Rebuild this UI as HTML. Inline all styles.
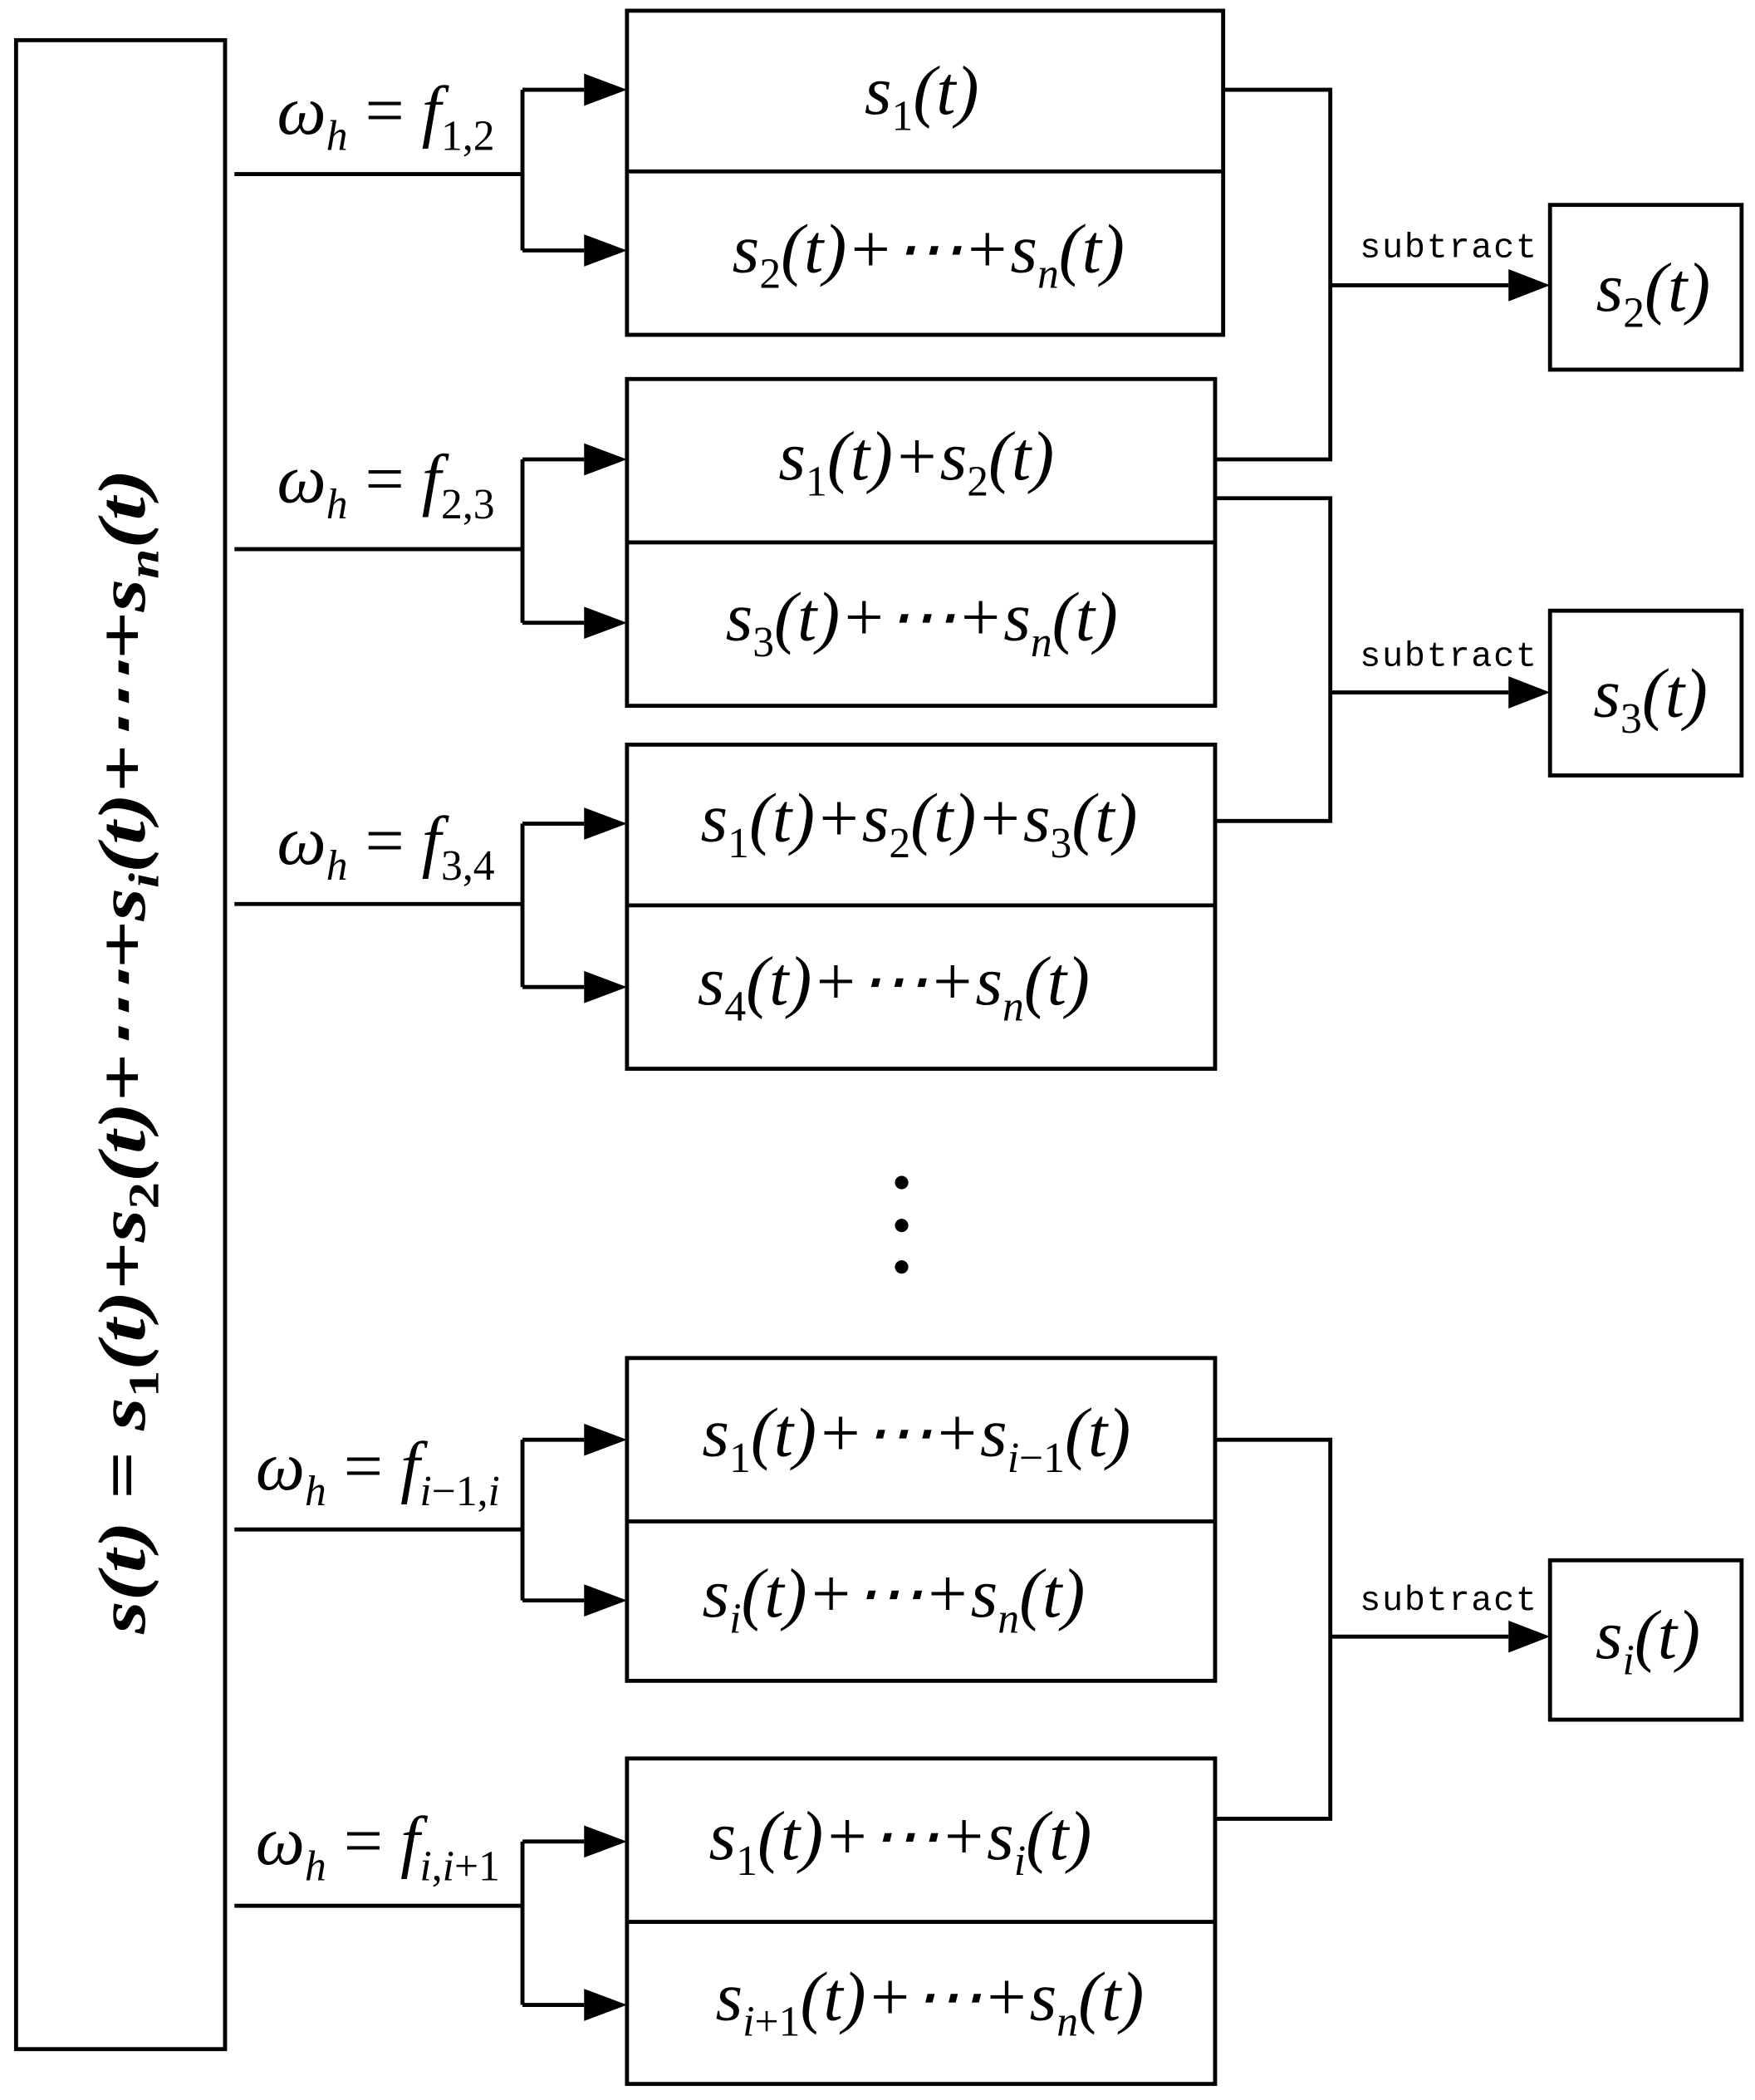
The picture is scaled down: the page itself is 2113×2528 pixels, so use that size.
<!DOCTYPE html>
<html><head><meta charset="utf-8"><style>html,body{margin:0;padding:0;background:#fff}svg{display:block}</style></head><body>
<svg width="2113" height="2528" viewBox="0 0 1310 1568" preserveAspectRatio="none" xmlns="http://www.w3.org/2000/svg">
<g fill="none" stroke="#000" stroke-width="3">
<rect x="12" y="30" width="156" height="1500"/>
<rect x="468" y="8" width="445" height="242"/><line x1="468" y1="128" x2="913" y2="128"/>
<rect x="468" y="283" width="439" height="244"/><line x1="468" y1="405" x2="907" y2="405"/>
<rect x="468" y="556" width="439" height="242"/><line x1="468" y1="676" x2="907" y2="676"/>
<rect x="468" y="1014" width="439" height="241"/><line x1="468" y1="1136" x2="907" y2="1136"/>
<rect x="468" y="1313" width="439" height="243"/><line x1="468" y1="1435" x2="907" y2="1435"/>
<rect x="1157" y="153" width="143" height="123"/>
<rect x="1157" y="456" width="143" height="123"/>
<rect x="1157" y="1165" width="143" height="119"/>
<path d="M175 130H390M390 67V187"/><path d="M390 67H436M390 187H436"/>
<path d="M175 410H390M390 343V465"/><path d="M390 343H436M390 465H436"/>
<path d="M175 675H390M390 615V737"/><path d="M390 615H436M390 737H436"/>
<path d="M175 1142H390M390 1075V1195"/><path d="M390 1075H436M390 1195H436"/>
<path d="M175 1423H390M390 1375V1497"/><path d="M390 1375H436M390 1497H436"/>
<path d="M913 67H993V343H907"/><path d="M993 213H1126"/>
<path d="M907 372H993V613H907"/><path d="M993 517H1126"/>
<path d="M907 1075H993V1358H907"/><path d="M993 1222H1126"/>
</g>
<g fill="#000">
<path d="M436 55L468 67L436 79z"/><path d="M436 175L468 187L436 199z"/>
<path d="M436 331L468 343L436 355z"/><path d="M436 453L468 465L436 477z"/>
<path d="M436 603L468 615L436 627z"/><path d="M436 725L468 737L436 749z"/>
<path d="M436 1063L468 1075L436 1087z"/><path d="M436 1183L468 1195L436 1207z"/>
<path d="M436 1363L468 1375L436 1387z"/><path d="M436 1485L468 1497L436 1509z"/>
<path d="M1126 201L1157 213L1126 225z"/><path d="M1126 505L1157 517L1126 529z"/><path d="M1126 1210L1157 1222L1126 1234z"/>
<circle cx="673" cy="883" r="5"/><circle cx="673" cy="915" r="5"/><circle cx="673" cy="946" r="5"/>
</g>
<g font-family="'Liberation Mono', monospace" font-size="26" fill="#000">
<text x="1015" y="192" textLength="132">subtract</text>
<text x="1015" y="497" textLength="132">subtract</text>
<text x="1015" y="1202" textLength="132">subtract</text>
</g>
<g font-family="'Liberation Serif', serif" font-style="italic" font-size="52" fill="#000" text-anchor="middle">
<text x="288" y="100">ω<tspan font-size="32" dy="12">h</tspan><tspan dy="-12" font-style="normal"> = </tspan>f<tspan font-size="32" dy="12" font-style="normal">1,2</tspan></text>
<text x="288" y="375">ω<tspan font-size="32" dy="12">h</tspan><tspan dy="-12" font-style="normal"> = </tspan>f<tspan font-size="32" dy="12" font-style="normal">2,3</tspan></text>
<text x="288" y="645">ω<tspan font-size="32" dy="12">h</tspan><tspan dy="-12" font-style="normal"> = </tspan>f<tspan font-size="32" dy="12" font-style="normal">3,4</tspan></text>
<text x="282" y="1112">ω<tspan font-size="32" dy="12">h</tspan><tspan dy="-12" font-style="normal"> = </tspan>f<tspan font-size="32" dy="12">i</tspan><tspan font-size="32" font-style="normal">−1,</tspan><tspan font-size="32">i</tspan></text>
<text x="282" y="1392">ω<tspan font-size="32" dy="12">h</tspan><tspan dy="-12" font-style="normal"> = </tspan>f<tspan font-size="32" dy="12">i</tspan><tspan font-size="32" font-style="normal">,</tspan><tspan font-size="32">i</tspan><tspan font-size="32" font-style="normal">+1</tspan></text>

<text x="688" y="85">s<tspan font-size="32" dy="12" font-style="normal">1</tspan><tspan dy="-12">(t)</tspan></text>
<text x="693" y="203">s<tspan font-size="32" dy="12" font-style="normal">2</tspan><tspan dy="-12">(t)+⋯+s</tspan><tspan font-size="32" dy="12">n</tspan><tspan dy="-12">(t)</tspan></text>
<text x="684" y="358">s<tspan font-size="32" dy="12" font-style="normal">1</tspan><tspan dy="-12">(t)+s</tspan><tspan font-size="32" dy="12" font-style="normal">2</tspan><tspan dy="-12">(t)</tspan></text>
<text x="688" y="478">s<tspan font-size="32" dy="12" font-style="normal">3</tspan><tspan dy="-12">(t)+⋯+s</tspan><tspan font-size="32" dy="12">n</tspan><tspan dy="-12">(t)</tspan></text>
<text x="686" y="628">s<tspan font-size="32" dy="12" font-style="normal">1</tspan><tspan dy="-12">(t)+s</tspan><tspan font-size="32" dy="12" font-style="normal">2</tspan><tspan dy="-12">(t)+s</tspan><tspan font-size="32" dy="12" font-style="normal">3</tspan><tspan dy="-12">(t)</tspan></text>
<text x="667" y="750">s<tspan font-size="32" dy="12" font-style="normal">4</tspan><tspan dy="-12">(t)+⋯+s</tspan><tspan font-size="32" dy="12">n</tspan><tspan dy="-12">(t)</tspan></text>
<text x="684" y="1087">s<tspan font-size="32" dy="12" font-style="normal">1</tspan><tspan dy="-12">(t)+⋯+s</tspan><tspan font-size="32" dy="12">i</tspan><tspan font-size="32" font-style="normal">−1</tspan><tspan dy="-12">(t)</tspan></text>
<text x="667" y="1207">s<tspan font-size="32" dy="12">i</tspan><tspan dy="-12">(t)+⋯+s</tspan><tspan font-size="32" dy="12">n</tspan><tspan dy="-12">(t)</tspan></text>
<text x="672" y="1388">s<tspan font-size="32" dy="12" font-style="normal">1</tspan><tspan dy="-12">(t)+⋯+s</tspan><tspan font-size="32" dy="12">i</tspan><tspan dy="-12">(t)</tspan></text>
<text x="694" y="1508">s<tspan font-size="32" dy="12">i</tspan><tspan font-size="32" font-style="normal">+1</tspan><tspan dy="-12">(t)+⋯+s</tspan><tspan font-size="32" dy="12">n</tspan><tspan dy="-12">(t)</tspan></text>

<text x="1234" y="232">s<tspan font-size="32" dy="12" font-style="normal">2</tspan><tspan dy="-12">(t)</tspan></text>
<text x="1232" y="535">s<tspan font-size="32" dy="12" font-style="normal">3</tspan><tspan dy="-12">(t)</tspan></text>
<text x="1230" y="1238">s<tspan font-size="32" dy="12">i</tspan><tspan dy="-12">(t)</tspan></text>
</g>
<text transform="translate(108,785) rotate(-90)" text-anchor="middle" font-family="'Liberation Serif', serif" font-style="italic" font-weight="bold" font-size="50" fill="#000" textLength="870" lengthAdjust="spacingAndGlyphs">s(t) = s<tspan font-size="32" dy="10" font-style="normal">1</tspan><tspan dy="-10">(t)+s</tspan><tspan font-size="32" dy="10" font-style="normal">2</tspan><tspan dy="-10">(t)+⋯+s</tspan><tspan font-size="32" dy="10">i</tspan><tspan dy="-10">(t)+⋯+s</tspan><tspan font-size="32" dy="10">n</tspan><tspan dy="-10">(t)</tspan></text>
</svg>
</body></html>
